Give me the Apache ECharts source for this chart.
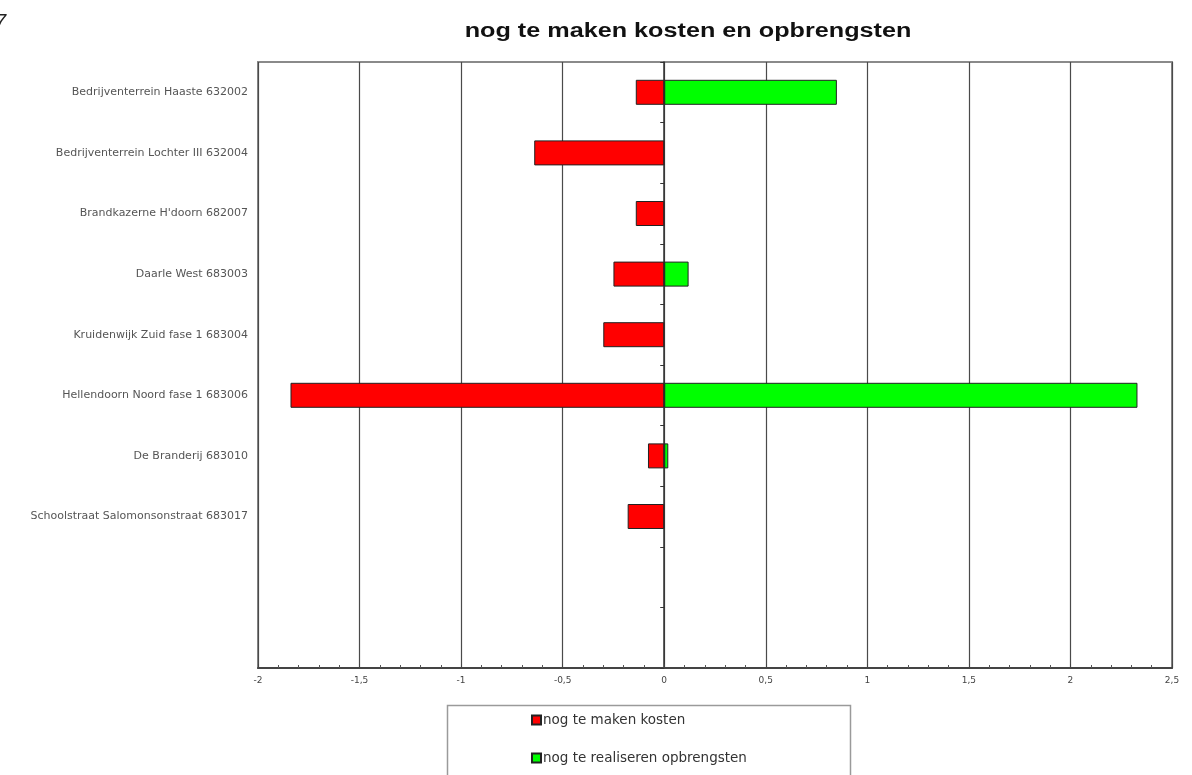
<!DOCTYPE html>
<html>
<head>
<meta charset="utf-8">
<script src="https://cdn.jsdelivr.net/npm/echarts@6/dist/echarts.min.js"></script>
<style>
  html, body { margin: 0; padding: 0; background: #fff; }
  #chart { width: 1192px; height: 775px; }
</style>
</head>
<body>
<div id="chart"></div>
<script>
// Projects (two trailing empty slots leave room at the bottom of the plot)
const projects = [
  'Bedrijventerrein Haaste 632002',
  'Bedrijventerrein Lochter III 632004',
  'Brandkazerne H\'doorn 682007',
  'Daarle West 683003',
  'Kruidenwijk Zuid fase 1 683004',
  'Hellendoorn Noord fase 1 683006',
  'De Branderij 683010',
  'Schoolstraat Salomonsonstraat 683017',
  '',
  ''
];
// Remaining costs (negative) and remaining revenues (positive), in millions
const kosten = [-0.14, -0.64, -0.14, -0.25, -0.30, -1.84, -0.08, -0.18, null, null];
const opbrengsten = [0.85, null, null, 0.12, null, 2.33, 0.02, null, null, null];
const seriesNames = ['nog te maken kosten', 'nog te realiseren opbrengsten'];
const chartTitle = 'nog te maken kosten en opbrengsten';
const xTicks = { min: -2, max: 2.5, interval: 0.5 };

const chart = echarts.init(document.getElementById('chart'), null, { renderer: 'canvas' });

const arial = '"Liberation Sans", Arial, sans-serif';
const wide = '"DejaVu Sans", Verdana, sans-serif';

chart.setOption({
  backgroundColor: '#ffffff',
  animation: false,
  graphic: [
    {
      // widened bold heading
      type: 'text',
      x: 688,
      y: 21,
      scaleX: 1.26,
      style: {
        text: chartTitle,
        font: 'bold 20px ' + arial,
        fill: '#111',
        textAlign: 'center',
        textVerticalAlign: 'top'
      }
    },
    {
      type: 'rect',
      shape: { x: 447.5, y: 705.5, width: 403, height: 80 },
      style: { fill: '#fff', stroke: '#9a9a9a', lineWidth: 1.5 },
      z: 0
    },
    {
      type: 'text',
      x: -5,
      y: 12,
      style: { text: '7', font: 'italic 20px ' + arial, fill: '#222' }
    }
  ],
  legend: {
    orient: 'vertical',
    left: 526,
    top: 708,
    itemWidth: 9,
    itemHeight: 9,
    itemGap: 24,
    icon: 'rect',
    textStyle: { fontFamily: wide, fontSize: 13.5, color: '#333', padding: [0, 0, 0, -3] },
    data: seriesNames,
    z: 5
  },
  grid: {
    left: 258,
    right: 20,
    top: 62,
    bottom: 107,
    show: true,
    borderColor: '#8a8a8a',
    borderWidth: 2,
    containLabel: false
  },
  xAxis: {
    type: 'value',
    min: xTicks.min,
    max: xTicks.max,
    interval: xTicks.interval,
    axisLine: { show: true, onZero: false, lineStyle: { color: '#444', width: 2 } },
    axisTick: { show: true, inside: true, length: 4, lineStyle: { color: '#444' } },
    minorTick: { show: true, splitNumber: 5, length: 3, lineStyle: { color: '#555' } },
    splitLine: { show: true, lineStyle: { color: '#4a4a4a', width: 1.2 } },
    axisLabel: {
      fontFamily: wide,
      fontSize: 9,
      color: '#444',
      margin: 8,
      formatter: v => String(v).replace('.', ',')
    }
  },
  yAxis: [
    {
      type: 'category',
      data: projects,
      inverse: true,
      axisLine: { show: false, onZero: false },
      axisTick: { show: false },
      axisLabel: { fontFamily: wide, fontSize: 11, color: '#555', margin: 10 }
    },
    {
      type: 'category',
      data: projects,
      inverse: true,
      position: 'left',
      axisLine: { show: true, onZero: true, lineStyle: { color: '#333', width: 1.5 } },
      axisTick: { show: true, length: 4, inside: false, lineStyle: { color: '#333' } },
      axisLabel: { show: false }
    }
  ],
  series: [
    {
      name: seriesNames[0],
      type: 'bar',
      stack: 'project',
      yAxisIndex: 0,
      data: kosten,
      barWidth: 25,
      itemStyle: { color: '#ff0000', borderColor: '#222', borderWidth: 1 }
    },
    {
      name: seriesNames[1],
      type: 'bar',
      stack: 'project',
      yAxisIndex: 0,
      data: opbrengsten,
      barWidth: 25,
      itemStyle: { color: '#00ff00', borderColor: '#222', borderWidth: 1 }
    }
  ]
});
</script>
</body>
</html>
